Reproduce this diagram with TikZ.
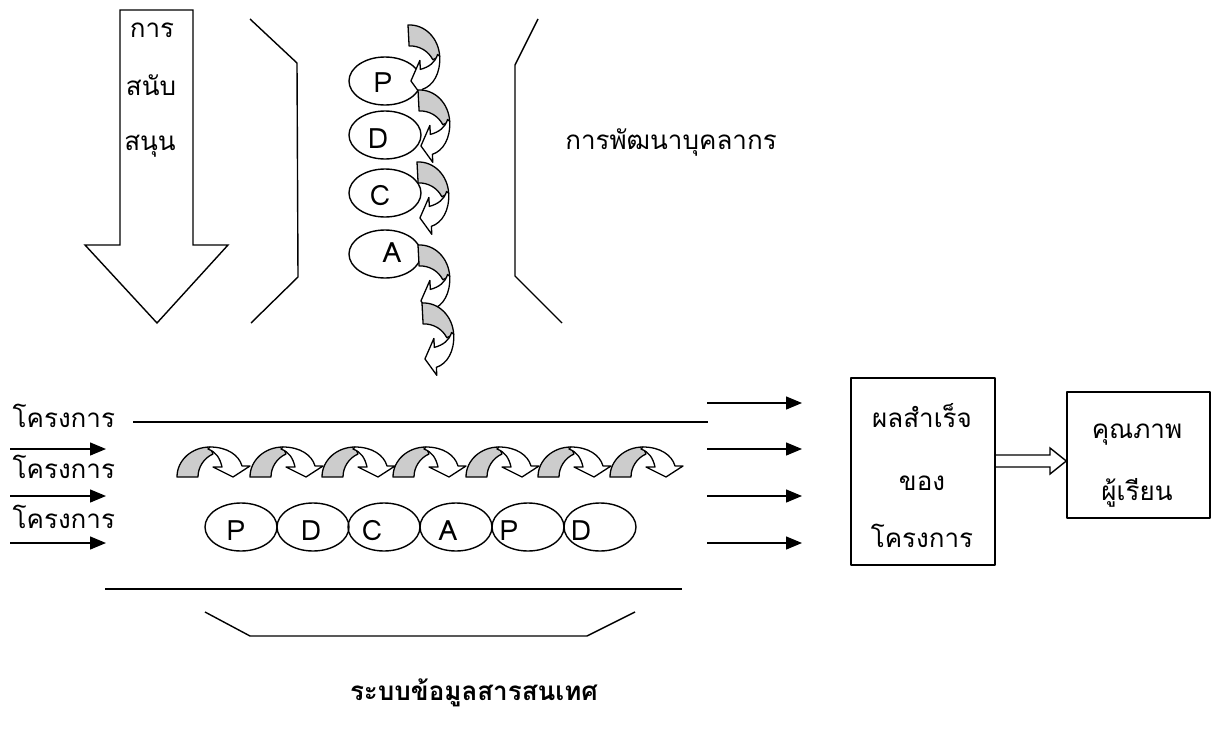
\documentclass[tikz,border=0pt]{standalone}
\usepackage{fontspec}
\setmainfont[Script=Thai]{Loma}
\usetikzlibrary{arrows.meta,shapes.geometric,calc}
\definecolor{curlgray}{RGB}{204,204,204}
\begin{document}
\begin{tikzpicture}[x=1pt,y=-1pt,
  line width=1.4pt, line join=round,
  txt/.style={inner sep=0pt, anchor=base, font=\fontsize{26}{30}\selectfont},
  let/.style={inner sep=0pt, anchor=base, font=\fontsize{28}{30}\selectfont},
  ttl/.style={inner sep=0pt, anchor=base, font=\fontsize{26}{30}\selectfont\bfseries},
  ell/.style={ellipse, draw, line width=1.4pt, minimum width=72pt, minimum height=48pt, inner sep=0pt},
  box/.style={draw, line width=1.4pt, inner sep=0pt},
  arr/.style={line width=1.4pt, -{Triangle[length=16pt,width=13pt]}},
  brk/.style={line width=1.4pt, line join=miter},
  curl/.pic={
    \filldraw[fill=curlgray, line width=1.3pt] (0,0) .. controls (0,-17) and (15,-30) .. (33,-30) -- (36,-23) .. controls (27,-19) and (21,-10) .. (21,0) -- cycle;
    \filldraw[fill=white, line width=1.3pt] (33,-30) .. controls (50,-30) and (62,-22) .. (65,-11) -- (73,-11) -- (56,0) -- (36,-10) -- (45,-10) .. controls (43,-19) and (39,-25) .. (31,-28) -- cycle;
  }
]
\useasboundingbox (0,0) rectangle (1211,731);

% big support arrow
\draw[brk] (120,10) -- (193,10) -- (193,245) -- (228,245) -- (157,323) -- (85,245) -- (120,245) -- cycle;
\node[txt] (s1) at (152,37) {การ};
\node[txt] (s2) at (151,95) {สนับ};
\node[txt] (s3) at (150,150) {สนุน};

% brackets
\draw[brk] (250,19) -- (297,63) -- (298,277) -- (251,323);
\draw[brk] (538,19) -- (515,65) -- (515,276) -- (562,323);

% vertical PDCA
\node[ell] (vp) at (385,81) {};
\node[ell] (vd) at (385,135) {};
\node[ell] (vc) at (385,193) {};
\node[ell] (va) at (385,254) {};
\node[let] (vpt) at (383,92) {P};
\node[let] (vdt) at (378,148) {D};
\node[let] (vct) at (380,205) {C};
\node[let] (vat) at (392,262) {A};
\pic[rotate=-87] at (408,25) {curl};
\pic[rotate=-87] at (418,90) {curl};
\pic[rotate=-87] at (417,162) {curl};
\pic[rotate=-87] at (418,245) {curl};
\pic[rotate=-87] at (422,303) {curl};

\node[txt] (dev) at (671,149) {การพัฒนาบุคลากร};

% horizontal band
\coordinate (tl) at (133,422);
\coordinate (tr) at (708,422);
\draw (tl) -- (tr);
\coordinate (bl) at (105,589);
\coordinate (br) at (682,589);
\draw (bl) -- (br);

\node[txt, anchor=base west] (p1) at (12,427) {โครงการ};
\node[txt, anchor=base west] (p2) at (12,478) {โครงการ};
\node[txt, anchor=base west] (p3) at (12,528) {โครงการ};
\coordinate (l1a) at (10,449); \coordinate (l1b) at (106,449);
\coordinate (l2a) at (10,496); \coordinate (l2b) at (106,496);
\coordinate (l3a) at (10,543); \coordinate (l3b) at (106,543);
\draw[arr] (l1a) -- (l1b);
\draw[arr] (l2a) -- (l2b);
\draw[arr] (l3a) -- (l3b);

\foreach \xx in {177,250,322,393,466,538,610} {
  \pic at (\xx,477) {curl};
}

\node[ell] (hp1) at (241,527) {};
\node[ell] (hd1) at (313,527) {};
\node[ell] (hc1) at (384,527) {};
\node[ell] (ha1) at (456,527) {};
\node[ell] (hp2) at (528,527) {};
\node[ell] (hd2) at (600,527) {};
\node[let] (hp1t) at (236,540) {P};
\node[let] (hd1t) at (311,540) {D};
\node[let] (hc1t) at (372,540) {C};
\node[let] (ha1t) at (448,540) {A};
\node[let] (hp2t) at (509,540) {P};
\node[let] (hd2t) at (581,540) {D};

% right arrows
\coordinate (r1a) at (707,403); \coordinate (r1b) at (802,403);
\coordinate (r2a) at (707,449); \coordinate (r2b) at (802,449);
\coordinate (r3a) at (707,496); \coordinate (r3b) at (802,496);
\coordinate (r4a) at (707,543); \coordinate (r4b) at (802,543);
\draw[arr] (r1a) -- (r1b);
\draw[arr] (r2a) -- (r2b);
\draw[arr] (r3a) -- (r3b);
\draw[arr] (r4a) -- (r4b);

% boxes
\node[box, minimum width=144pt, minimum height=187pt] (b1) at (923,471.5) {};
\node[txt] (b1a) at (922,427) {ผลสำเร็จ};
\node[txt] (b1b) at (922,490) {ของ};
\node[txt] (b1c) at (922,547) {โครงการ};
\node[box, minimum width=143pt, minimum height=126pt] (b2) at (1138.5,455) {};
\node[txt] (b2a) at (1137,438) {คุณภาพ};
\node[txt] (b2b) at (1137,500) {ผู้เรียน};
\draw[brk] (b1.east |- 0,455) -- (1050,455) -- (1050,448) -- (b2.west |- 0,461) -- (1050,474) -- (1050,467) -- (b1.east |- 0,467);

% info system bracket
\draw[brk] (205,612) -- (250,636) -- (587,636) -- (635,612);
\node[ttl] (info) at (474,700) {ระบบข้อมูลสารสนเทศ};
\end{tikzpicture}
\end{document}
